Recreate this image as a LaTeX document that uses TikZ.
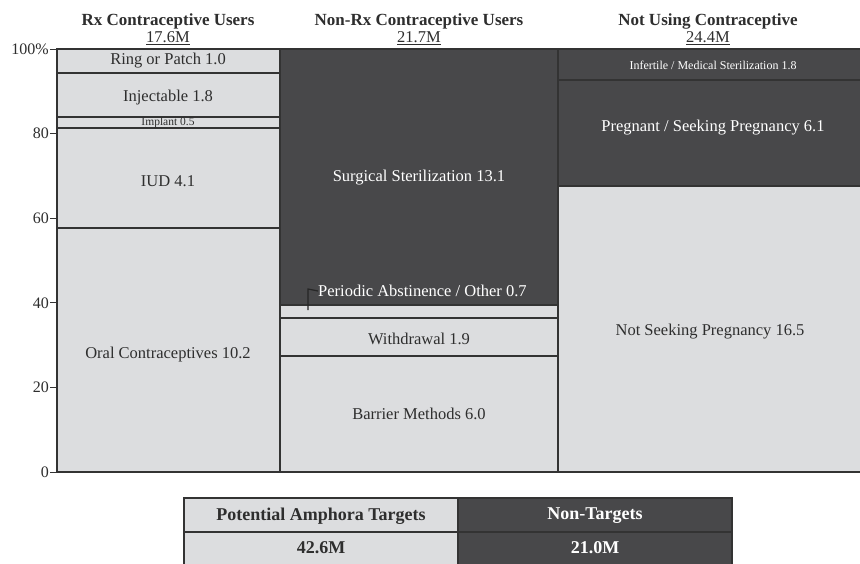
\documentclass[tikz,border=0pt]{standalone}
\usepackage{fontspec}
\setmainfont{Liberation Serif}
\definecolor{lightc}{HTML}{DCDDDF}
\definecolor{darkc}{HTML}{48484A}
\definecolor{linec}{HTML}{333333}
\definecolor{textc}{HTML}{2E2E2E}
\tikzset{
  cell/.style={line width=1.8pt, draw=linec},
  lightcell/.style={cell, fill=lightc},
  darkcell/.style={cell, fill=darkc},
  lbl/.style={font=\fontsize{16.5}{18}\selectfont, text=textc, inner sep=0pt},
  lbldark/.style={font=\fontsize{16.5}{18}\selectfont, text=white, inner sep=0pt},
  hdr/.style={font=\bfseries\fontsize{17}{19}\selectfont, text=textc, inner sep=0pt},
  sub/.style={font=\fontsize{16.5}{18}\selectfont, text=textc, inner sep=0pt},
  axl/.style={font=\fontsize{16}{18}\selectfont, text=textc, anchor=east, inner sep=0pt},
  tbl/.style={font=\bfseries\fontsize{18}{20}\selectfont, inner sep=0pt},
}
\begin{document}
\begin{tikzpicture}[x=1pt,y=-1pt]
\useasboundingbox (0,0) rectangle (860,563);
\clip (0,0) rectangle (860,563);
\fill[white] (0,0) rectangle (860,563);
% Rx column
\path[lightcell] (57,49) rectangle (280,73);
\path[lightcell] (57,73) rectangle (280,117);
\path[lightcell] (57,117) rectangle (280,128);
\path[lightcell] (57,128) rectangle (280,228);
\path[lightcell] (57,228) rectangle (280,472);
% Non-Rx column
\path[darkcell] (280,49) rectangle (558,305);
\path[lightcell] (280,305) rectangle (558,318);
\path[lightcell] (280,318) rectangle (558,356);
\path[lightcell] (280,356) rectangle (558,472);
% Not using column
\path[darkcell] (558,49) rectangle (866,80);
\path[darkcell] (558,80) rectangle (866,186);
\path[lightcell] (558,186) rectangle (866,472);
\draw[linec, line width=2.4pt] (57,49) -- (866,49);
% axis ticks
\foreach \v/\t in {0/0,20/20,40/40,60/60,80/80,100/100\%} {
  \draw[linec, line width=1pt] (50,{472-4.23*\v}) -- (57,{472-4.23*\v});
  \node[axl] (ax\v) at (49,{472-4.23*\v}) {\t};
}
% headers
\node[hdr] (h1) at (168,21) {Rx Contraceptive Users};
\node[sub] (s1) at (168,38) {\underline{17.6M}};
\node[hdr] (h2) at (419,21) {Non-Rx Contraceptive Users};
\node[sub] (s2) at (419,38) {\underline{21.7M}};
\node[hdr] (h3) at (708,21) {Not Using Contraceptive};
\node[sub] (s3) at (708,38) {\underline{24.4M}};
% labels
\node[lbl] (ring) at (168,61) {Ring or Patch 1.0};
\node[lbl] (inj) at (168,98) {Injectable 1.8};
\node[lbl, font=\fontsize{11.5}{12}\selectfont] (imp) at (168,122.5) {Implant 0.5};
\node[lbl] (iud) at (168,181) {IUD 4.1};
\node[lbl] (oral) at (168,355) {Oral Contraceptives 10.2};
\node[lbldark] (surg) at (419,178) {Surgical Sterilization 13.1};
\node[lbldark, anchor=west] (peri) at (318,291) {Periodic Abstinence / Other 0.7};
\node[lbl] (with) at (419,339) {Withdrawal 1.9};
\node[lbl] (barr) at (419,414) {Barrier Methods 6.0};
\node[lbldark, font=\fontsize{12}{13}\selectfont] (inf) at (713,65) {Infertile / Medical Sterilization 1.8};
\node[lbldark] (preg) at (713,128) {Pregnant / Seeking Pregnancy 6.1};
\node[lbl] (nots) at (710,332) {Not Seeking Pregnancy 16.5};
\coordinate (pc) at (308,310);
\draw[black!85, line width=1.2pt] (peri.west) -- (308,289) -- (pc);
% table
\path[lightcell] (184,498) rectangle (458,532);
\path[darkcell] (458,498) rectangle (732,532);
\path[lightcell] (184,532) rectangle (458,570);
\path[darkcell] (458,532) rectangle (732,570);
\node[tbl, text=textc] (t1) at (321,516) {Potential Amphora Targets};
\node[tbl, text=white] (t2) at (595,516) {Non-Targets};
\node[tbl, text=textc] (t3) at (321,548) {42.6M};
\node[tbl, text=white] (t4) at (595,548) {21.0M};
\end{tikzpicture}
\end{document}
